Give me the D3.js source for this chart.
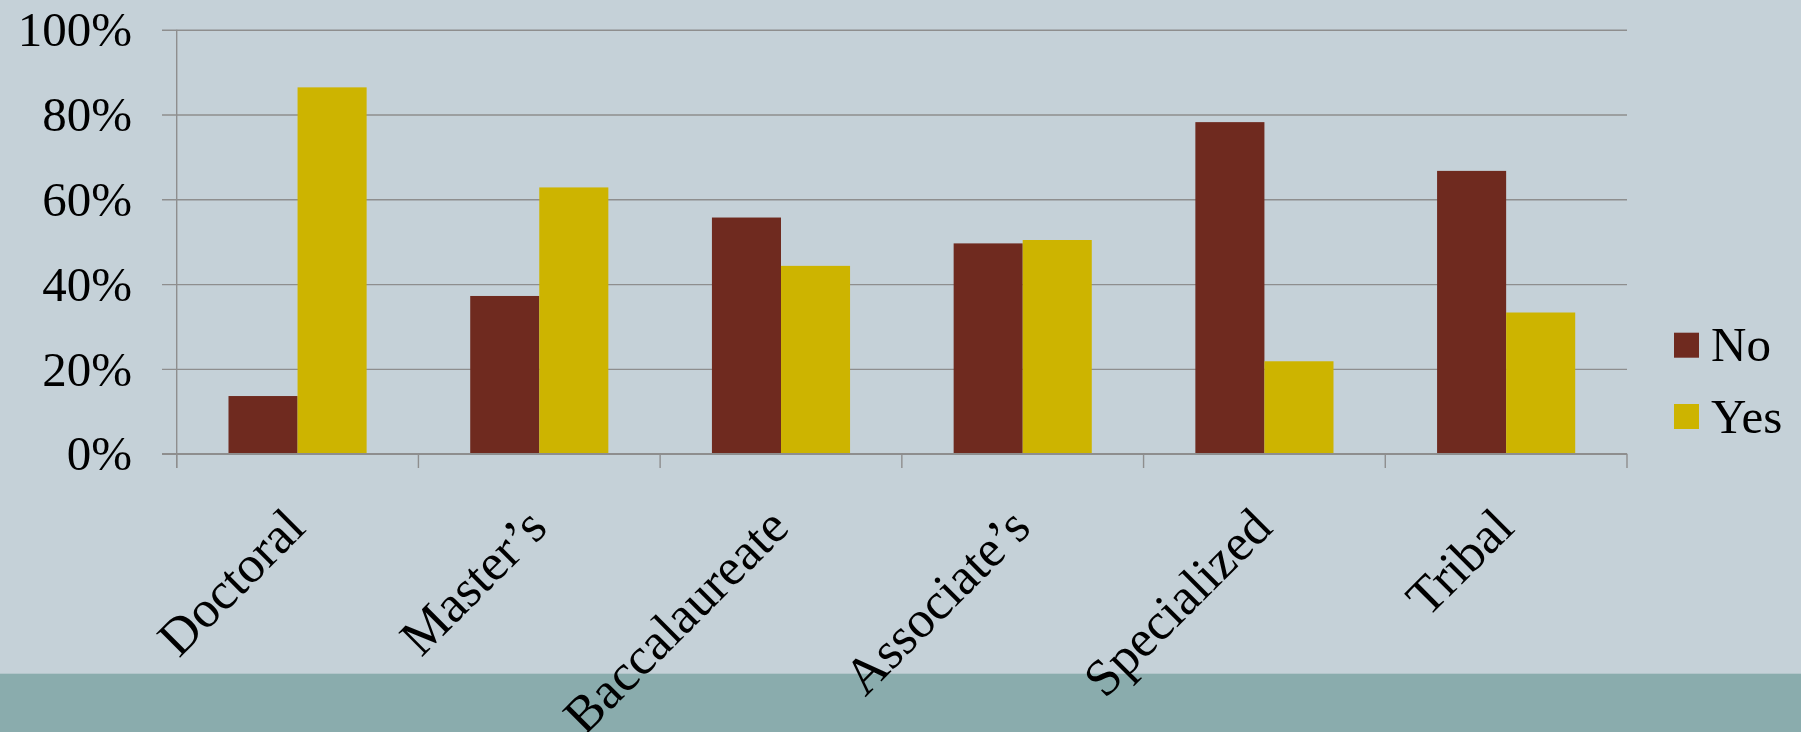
<!DOCTYPE html>
<html>
<head>
<meta charset="utf-8">
<script src="https://cdn.jsdelivr.net/npm/d3@7"></script>
<style>
  html, body { margin: 0; padding: 0; background: #C5D1D8; }
  svg { display: block; }
  text { font-family: "Liberation Serif", "Times New Roman", serif; fill: #000; }
</style>
</head>
<body>
<svg id="chart" width="1801" height="732"></svg>
<script>
// Share of institutions answering No / Yes, by institution type
const categories = ["Doctoral", "Master\u2019s", "Baccalaureate", "Associate\u2019s", "Specialized", "Tribal"];
const seriesNames = ["No", "Yes"];
const noValues  = [0.136, 0.372, 0.557, 0.496, 0.782, 0.667];
const yesValues = [0.864, 0.628, 0.443, 0.504, 0.218, 0.333];
const yTicks = [0, 0.2, 0.4, 0.6, 0.8, 1.0];
const colors = ["#6F2A1F", "#CDB400"];

const W = 1801, H = 732;
const plot = { left: 176.7, right: 1627, top: 29.7, bottom: 453.7 };

const svg = d3.select("#chart");

// page background and bottom band
svg.append("rect").attr("width", W).attr("height", H).attr("fill", "#C5D1D8");
svg.append("rect").attr("x", 0).attr("y", 673.7).attr("width", W).attr("height", H - 673.7).attr("fill", "#8AACAD");

const x0 = d3.scaleBand().domain(categories).range([plot.left, plot.right]).paddingInner(0).paddingOuter(0);
const x1 = d3.scaleBand().domain(seriesNames).range([0, x0.bandwidth()]).paddingInner(0).paddingOuter(0.75);
const y = d3.scaleLinear().domain([0, 1]).range([plot.bottom, plot.top]);

const gridColor = "#8E8E8E";

// horizontal gridlines with the left tick stubs
const yAxis = d3.axisLeft(y).tickValues(yTicks).tickSize(-(plot.right - plot.left)).tickFormat(d3.format(".0%")).tickPadding(0);
const gy = svg.append("g").attr("transform", `translate(${plot.left},0)`).call(yAxis);
gy.select(".domain").remove();
gy.selectAll(".tick line").attr("stroke", gridColor).attr("stroke-width", 1.4).attr("x1", -14.7);
gy.selectAll(".tick text")
  .attr("x", -44.7)
  .attr("dy", "0.33em")
  .attr("font-size", 49)
  .attr("font-family", "Liberation Serif, serif")
  .attr("text-anchor", "end")
  .attr("fill", "#000");

// series data rows
const rows = categories.map((c, i) => ({ cat: c, values: [
  { key: "No", v: noValues[i] },
  { key: "Yes", v: yesValues[i] }
]}));

// bars
const groups = svg.append("g").selectAll("g").data(rows).join("g")
  .attr("transform", d => `translate(${x0(d.cat)},0)`);
groups.selectAll("rect").data(d => d.values).join("rect")
  .attr("x", d => x1(d.key))
  .attr("y", d => y(d.v))
  .attr("width", x1.bandwidth())
  .attr("height", d => y(0) - y(d.v))
  .attr("fill", (d, i) => colors[i]);

// vertical axis line
svg.append("line")
  .attr("x1", plot.left).attr("x2", plot.left)
  .attr("y1", plot.top).attr("y2", plot.bottom + 14.3)
  .attr("stroke", gridColor).attr("stroke-width", 1.4);

// category axis with boundary ticks
svg.append("line")
  .attr("x1", plot.left - 14.7).attr("x2", plot.right)
  .attr("y1", plot.bottom).attr("y2", plot.bottom)
  .attr("stroke", gridColor).attr("stroke-width", 1.6);
const boundaries = categories.map(c => x0(c)).concat([plot.right]);
svg.append("g").selectAll("line").data(boundaries).join("line")
  .attr("x1", d => d).attr("x2", d => d)
  .attr("y1", plot.bottom).attr("y2", plot.bottom + 14.3)
  .attr("stroke", gridColor).attr("stroke-width", 1.4);

// rotated category labels
svg.append("g").selectAll("text").data(categories).join("text")
  .attr("transform", d => `translate(${x0(d) + x0.bandwidth() / 2 + 10},530) rotate(-45)`)
  .attr("text-anchor", "end")
  .attr("font-size", 52)
  .text(d => d);

// legend
const legend = svg.append("g").selectAll("g").data(seriesNames).join("g")
  .attr("transform", (d, i) => `translate(1674,${332.7 + i * 71.3})`);
legend.append("rect").attr("width", 25).attr("height", 25).attr("fill", (d, i) => colors[i]);
legend.append("text").attr("x", 37).attr("y", 28.5).attr("font-size", 49).text(d => d);
</script>
</body>
</html>
